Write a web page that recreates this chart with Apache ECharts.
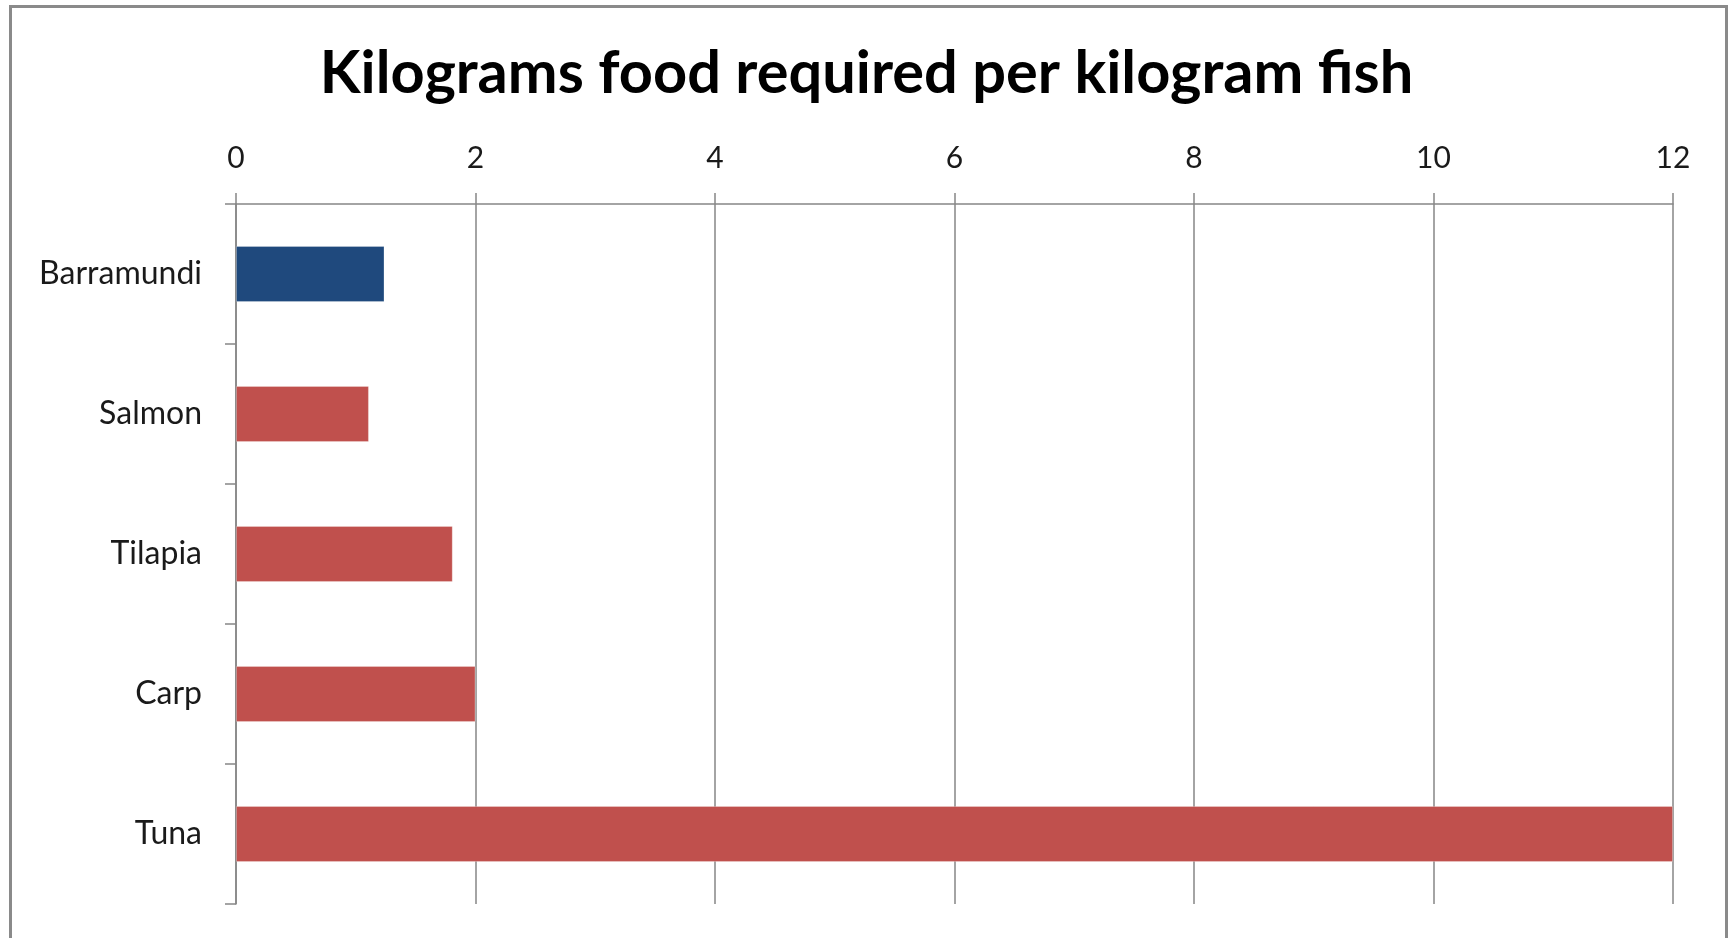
<!DOCTYPE html>
<html>
<head>
<meta charset="utf-8">
<script src="https://cdn.jsdelivr.net/npm/echarts@6/dist/echarts.min.js"></script>
<style>
  html, body { margin: 0; padding: 0; background: #fff; }
  #chart { width: 1733px; height: 938px; }
</style>
</head>
<body>
<div id="chart"></div>
<script>
const titleText = 'Kilograms food required per kilogram fish';
const categories = ['Barramundi', 'Salmon', 'Tilapia', 'Carp', 'Tuna'];
const values = [1.24, 1.11, 1.81, 2.0, 12];
const highlight = 'Barramundi';
const xTicks = { min: 0, max: 12, interval: 2 };

const BLUE = '#1F497D';
const RED = '#C0504D';
const FONT = 'Lato, "Open Sans", sans-serif';

const chart = echarts.init(document.getElementById('chart'), null, { renderer: 'canvas' });

chart.setOption({
  animation: false,
  backgroundColor: '#ffffff',
  title: {
    text: titleText,
    left: 'center',
    top: 39,
    textStyle: { fontFamily: FONT, fontSize: 59.5, fontWeight: 'bold', color: '#000' }
  },
  graphic: [{
    type: 'rect',
    z: -1,
    shape: { x: 10.5, y: 6.5, width: 1716, height: 1000 },
    style: { fill: 'none', stroke: '#8a8a8a', lineWidth: 3 }
  }],
  grid: { left: 236, right: 60, top: 204, bottom: 34, containLabel: false },
  xAxis: {
    type: 'value',
    position: 'top',
    min: xTicks.min, max: xTicks.max, interval: xTicks.interval,
    axisLine: { show: true, lineStyle: { color: '#868686', width: 1.5 } },
    axisTick: { show: true, inside: false, length: 11, lineStyle: { color: '#868686', width: 1.5 } },
    axisLabel: { margin: 31, fontFamily: FONT, fontSize: 30, color: '#1a1a1a' },
    splitLine: { show: true, lineStyle: { color: '#868686', width: 1.5 } }
  },
  yAxis: {
    type: 'category',
    data: categories,
    inverse: true,
    axisLine: { show: true, lineStyle: { color: '#868686', width: 1.5 } },
    axisTick: { show: true, length: 11, lineStyle: { color: '#868686', width: 1.5 } },
    axisLabel: { margin: 34, fontFamily: FONT, fontSize: 32, color: '#1a1a1a' },
    splitLine: { show: false }
  },
  series: [{
    type: 'bar',
    data: values.map((v, i) => ({
      value: v,
      itemStyle: { color: categories[i] === highlight ? BLUE : RED }
    })),
    barCategoryGap: '60%',
    itemStyle: { borderColor: 'rgba(255,255,255,0.25)', borderWidth: 1 }
  }]
});
</script>
</body>
</html>
